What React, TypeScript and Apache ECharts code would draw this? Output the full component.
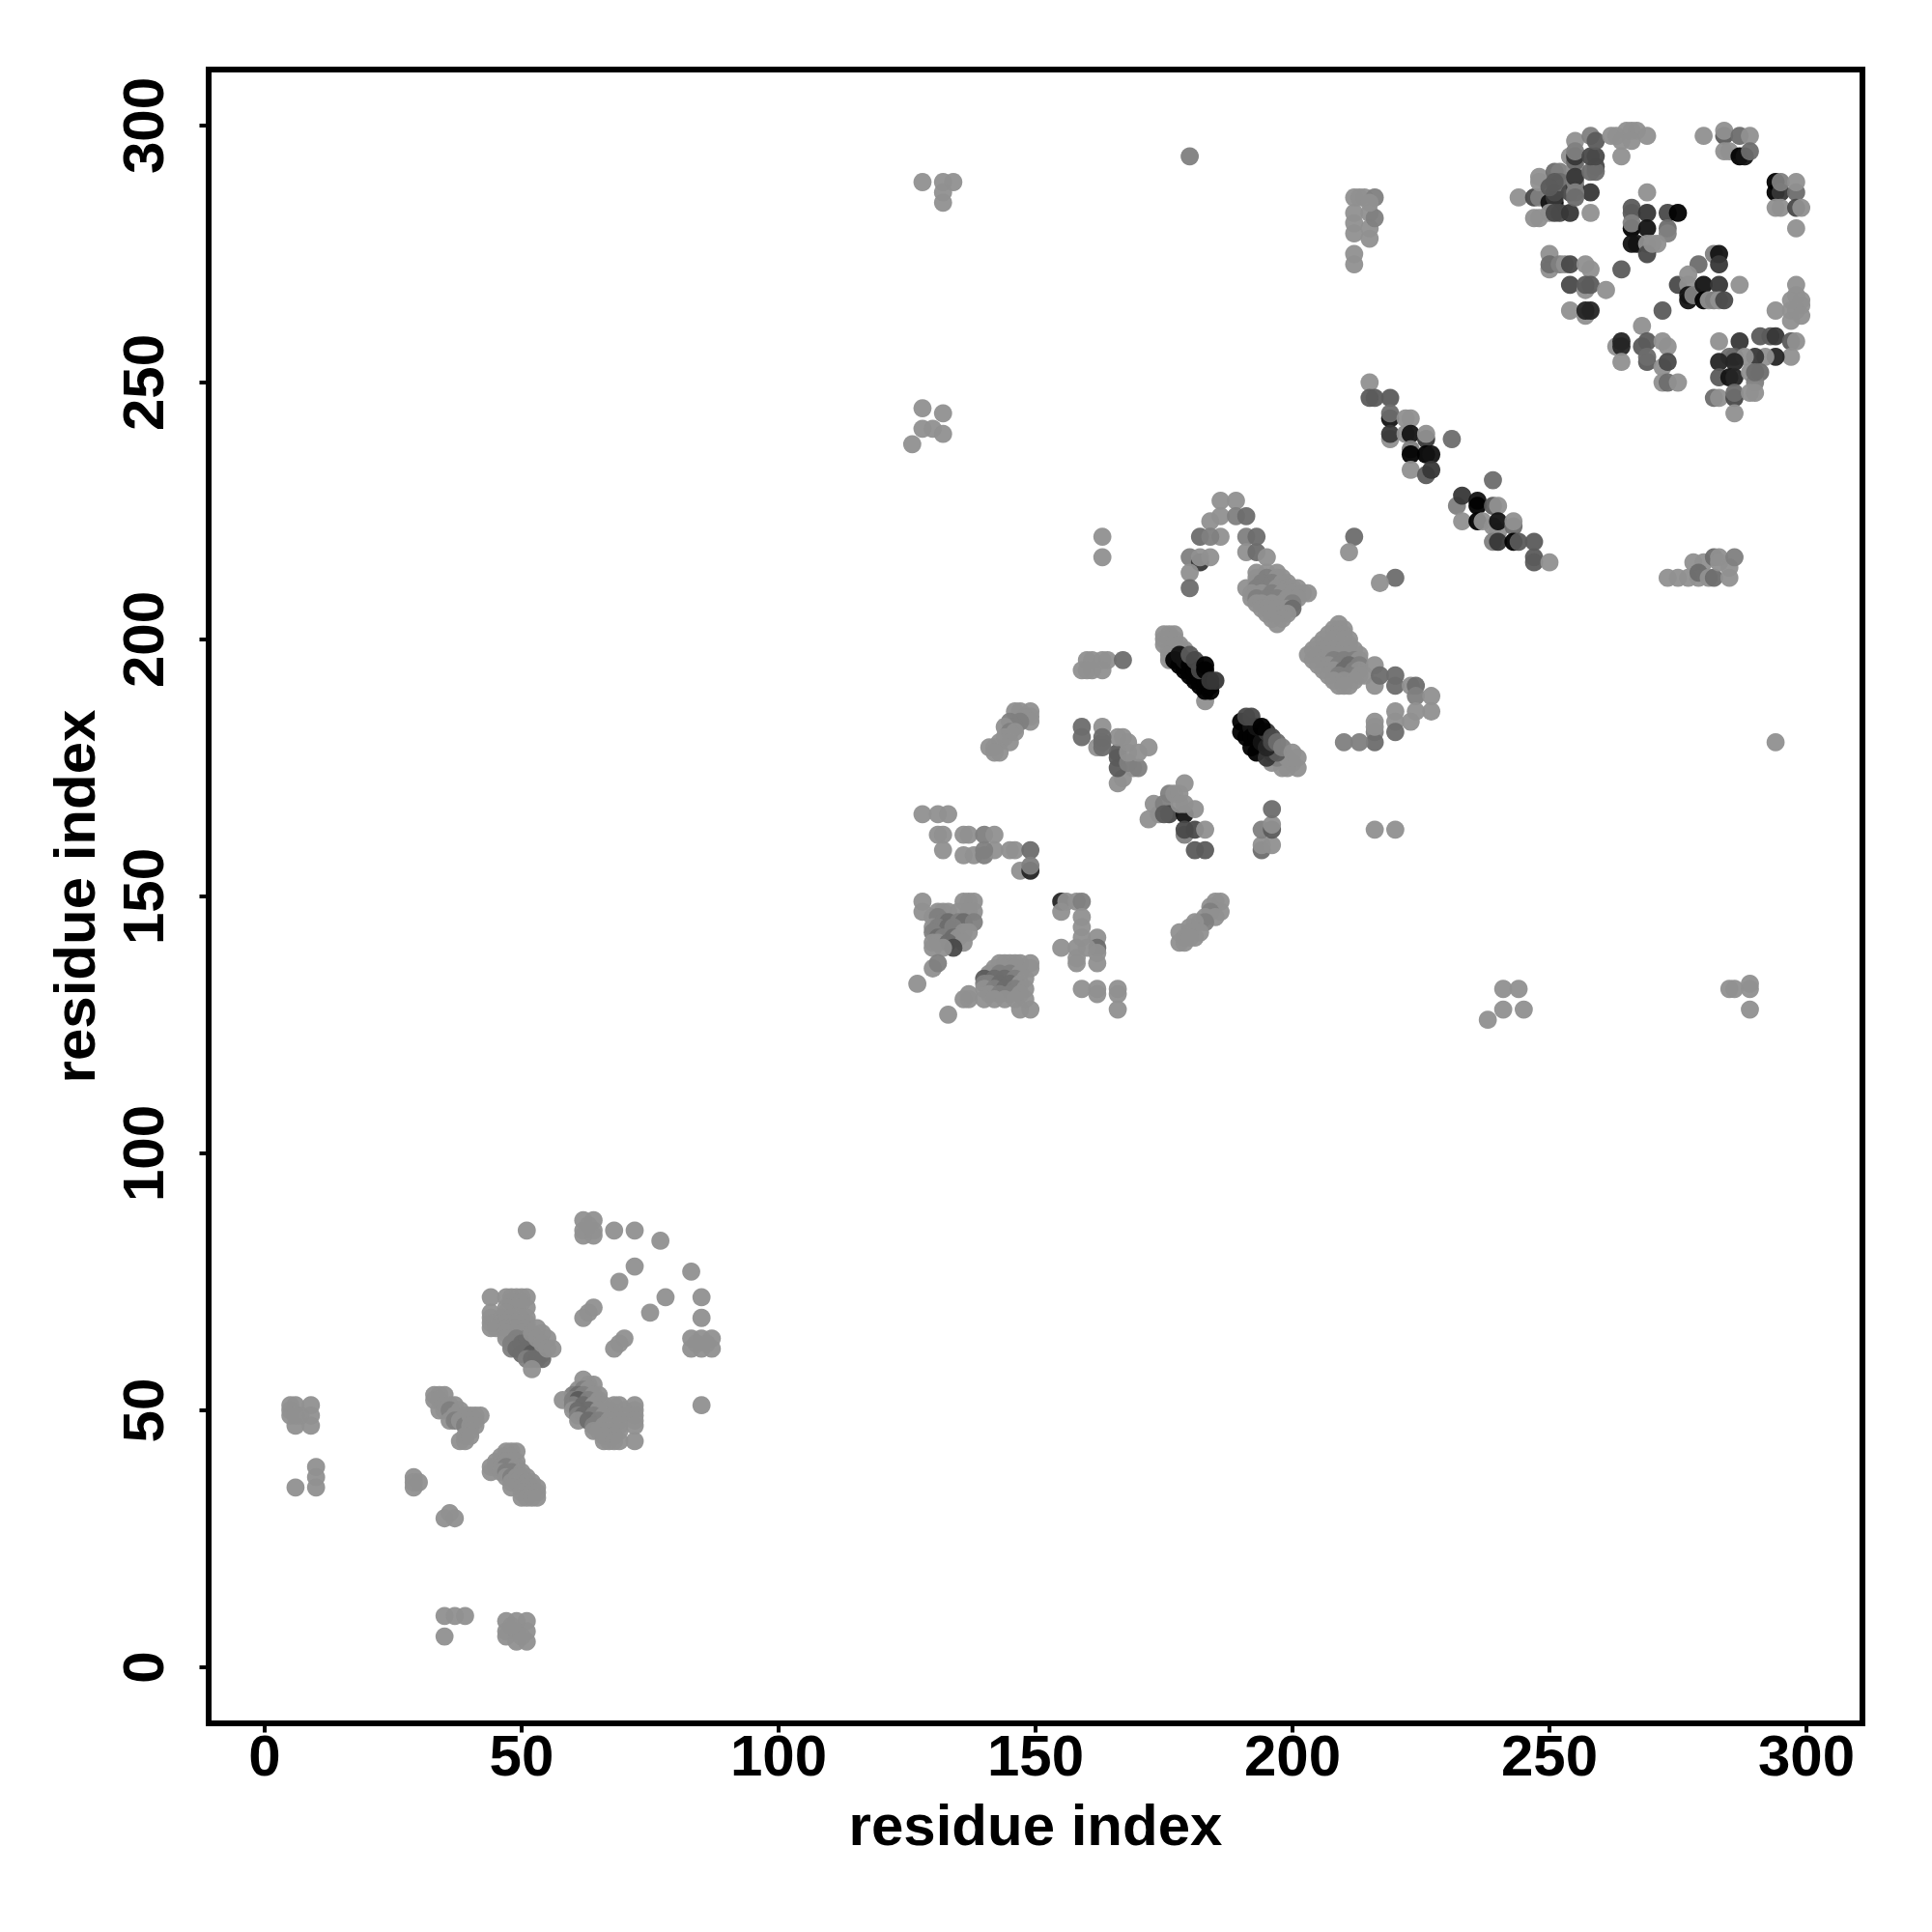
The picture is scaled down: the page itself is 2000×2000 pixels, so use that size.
import React, { useEffect, useRef } from "react";
import * as echarts from "echarts";

type C = number[];

const tickValues = [0, 50, 100, 150, 200, 250, 300];

// [residue x, residue y, shade level 0 (light) .. 8 (near black)]
const domainA: C[] = [
  [5,51],[6,51],[9,51],[5,49],[5,50],[7,49],[9,49],[6,47],[9,47],[6,49],
  [10,39],[10,37],[10,35],[6,35],[29,37],[29,35],[30,36],[29,36],
  [36,30],[35,29],[37,29],[35,10],[37,10],[39,10],[35,6],
  [47,9],[49,9],[51,9],[47,7],[47,6],[49,7],[49,5],[51,7],[51,5],[50,6],[48,8],
];
const domainABandLeft: C[] = [
  [33,53],[34,53],[35,53],[33,52],[34,52],[35,51],[36,51],[37,51],[34,50],[35,50],[36,50,1],[37,49],[38,50],[39,49],
  [36,48],[37,48,1],[38,48],[39,47,1],[40,49],[41,49],[42,49],[41,48],[40,47],[41,47],[40,46],[39,45],[38,44],[39,44],[40,45],
  [47,42],[48,42],[49,42],[46,41],[47,41],[48,41],[45,40],[46,40],[47,40],[48,40],[49,40],[44,39],[45,39],[46,39],[47,39,1],[49,39],
  [44,38],[46,38],[47,38,1],[48,38,1],[50,38],[47,37],[48,37,1],[49,37],[50,37],[51,37],[48,36],[49,36],[50,36],[51,36],[52,36],
  [48,35],[50,35],[51,35],[52,35],[53,35],[50,34],[51,34],[52,34],[53,34],[50,33],[51,33],[52,33],[53,33],
];
const domainABlobUpper: C[] = [
  [44,72],[47,72],[48,72],[49,72],[50,72],[51,72],[48,71],[50,71],[47,70],[49,70],[51,70],
  [44,69],[47,69],[44,68],[46,68],[48,68],[50,68],[51,68],[44,67],[45,67],[46,67],[47,67],[49,67],[51,67],
  [44,66],[45,66],[47,66],[48,66],[49,66],[51,66],[47,65],[50,65],[47,64],[49,64,1],[51,64,1],
  [48,63,1],[50,63,2],[52,63,2],[48,62,1],[49,62,2],[51,62,2],[53,62,2],[50,61,2],[52,61,3],[54,61,2],
  [51,60,1],[52,60,2],[53,60,2],[54,60,2],[52,58],
  [52,65],[53,66],[53,64],[55,64],[54,65],[54,63],[55,62],[56,62],
];
const domainABlobLower: C[] = [
  [62,56],[63,55],[64,55],[61,54],[62,54,1],[63,54],[60,53,1],[61,53,2],[62,53,1],[64,53],[65,53],
  [58,52],[60,52,1],[61,52,3],[63,52,1],[65,52],[60,51,1],[62,51,2],[64,51],[66,51],[68,51],[69,51],[72,51],
  [60,50],[61,50,2],[63,50,2],[65,50],[67,50],[70,50],[72,50],[61,49,1],[62,49,2],[64,49,1],[66,49],[68,49],[69,49],[72,49],
  [61,48],[63,48,2],[65,48,1],[67,48],[69,48],[72,48],[64,47,1],[66,47],[69,47],[72,47],[64,46],[65,46],[67,46],[69,46],
  [66,45],[68,45],[66,44],[67,44],[68,44],[69,44],[72,44],
];
const domainAOuter: C[] = [
  [51,85],[62,87],[64,87],[62,85],[64,85],[62,84],[64,84],[63,86],[68,85],[72,85],[77,83],[72,78],[69,75],[83,77],
  [85,72],[85,68],[78,72],[75,69],[62,68],[64,70],[63,69],[70,64],[68,62],[69,63],
  [83,64],[85,64],[87,64],[83,62],[85,62],[87,62],[84,63],[86,63],[85,51],
];

const domainBLow: C[] = [
  [128,166],[131,166],[133,166],[131,162],[132,162],[132,159],[136,162],[137,162],[140,162,1],[142,162],
  [136,158],[138,158],[140,158,1],[142,159],[140,159,1],[145,159],[146,159],[149,159,2],[147,155],[149,155,6],[149,156,1],
  [128,149],[128,147],[136,149],[137,149],[138,149],[137,147],[138,147],[131,147],[132,147],[133,147],[135,147],
  [130,146],[131,146,1],[132,145,1],[133,145,2],[135,145,1],[136,145,2],[138,145,1],[130,144],[131,144,1],[133,144,2],[134,144,1],
  [136,143],[137,143],[130,143,1],[131,142,2],[132,142,1],[134,142,2],[135,142],[130,141],[131,141],[133,141,2],[136,141],
  [134,140,4],[132,140],[130,140],[130,136],[131,137,1],[127,133],
];
const domainBLow2: C[] = [
  [133,127],[137,130],[136,130],[137,131],
  [143,137],[144,137],[145,137],[146,137],[147,137],[149,137],[142,136],[144,136],[146,136],[149,136],
  [141,135],[143,135,1],[145,135,1],[147,135],[140,134,3],[142,134,2],[144,134,2],[146,134,1],[148,134],
  [140,133,1],[141,133,1],[143,133,2],[145,133,2],[147,133],[140,132],[142,132,1],[144,132,2],[146,132,1],[148,132],
  [141,131],[143,131,1],[145,131,1],[147,131],[140,130],[142,130],[144,130],[146,130],[148,130],[147,128],[149,128],
];
const domainBMid: C[] = [
  [155,149,6],[156,149],[158,149],[159,149,1],[155,147],[159,146],[159,144],[159,142],[162,142],[162,140,2],[155,140],[158,140],[160,140],
  [158,137],[158,138],[162,137],[162,139],[159,132],[162,132],[162,131],[166,132],[166,131],[166,128],
  [185,149],[186,149],[184,148],[186,147],[184,147,1],[183,146],[185,146],[182,145],[183,145,1],[181,145],[180,144],[182,143],[180,143],[178,143],[179,142],[181,142],[178,141],[179,141],[180,142],
  [172,165],[174,166],[173,168],[176,170,1],[175,168,1],[177,170],[178,170],[176,166,4],[175,166,3],[179,166,7],[179,172],[178,168],[179,168],[181,167],
  [179,162,1],[179,163,4],[181,163,4],[183,163],[181,159,3],[183,159,3],
  [194,159,2],[194,160],[196,160],[194,163,1],[196,163,3],[196,164],[196,167,2],
  [166,172],[167,173],[169,175],[170,175,1],[166,175,3],[166,177,3],[166,178,3],[168,176,1],[168,178],[170,178],[172,179],[166,181],[167,181],[168,180],
  [162,179],[163,179,2],[163,180,2],[159,183,2],[159,181,2],[163,183],[163,181,2],
  [146,186],[147,186],[148,185],[149,186],[149,185],[149,184],[147,184,1],[145,184,1],[146,183,1],[144,183],[145,182,1],[146,182],[144,181],[145,180],[143,180],[141,179],[142,179],[143,178],[142,178],
  [160,196],[161,196],[163,196],[164,196],[167,196,2],[159,194],[160,194],[161,194],[163,194],
];
const domainBDarkBands: C[] = [
  [175,201],[176,201],[177,201],[175,200],[177,200],[175,199],[178,199],[176,198],[178,198],[179,198],[176,197],[177,197],[176,196],[183,188],
  [177,196,8],[178,195,8],[179,194,8],[180,193,8],[181,192,8],[182,191,8],[183,190,8],[184,190,8],[184,191,8],
  [178,197,7],[179,196,7],[180,195,8],[181,194,8],[182,193,8],[183,192,8],
  [180,197,3],[181,196,4],[182,194,4],[183,195,8],[183,194,8],[184,192,5],[185,192,5],
  [196,176],[198,175],[199,175],[201,175],[200,176],[197,177,1],[199,177],
  [190,184,8],[190,182,8],[191,181,8],[192,179,8],[193,178,8],[195,177,5],[196,178,5],[197,178,3],
  [192,183,7],[192,181,8],[193,181,8],[194,180,7],[195,179,6],[193,183,7],[195,182,5],[196,180,4],
  [191,185,4],[192,185,4],[194,183,8],[196,181,4],[197,180,2],[198,179,1],[200,178],[201,177],
];
const domainBBlobs: C[] = [
  [186,227],[189,227],[186,224],[184,223],[189,224,1],[191,224,2],[186,220],[182,220,2],[184,220,1],[191,220,1],[193,220,2],
  [180,216,1],[182,215,5],[182,216],[184,216],[180,213],[180,210,2],[191,217],[193,217,2],[195,216],
  [193,213],[195,213],[197,213],[193,212],[195,212,1],[197,212],[198,212],[193,211],[194,211,1],[196,211,1],[198,211],[199,211],
  [191,210],[193,210,1],[195,210,1],[197,210],[199,210],[200,210],[201,210],[192,209],[194,209],[196,209,1],[198,209],[200,209],[202,209],[203,209],
  [192,208],[193,208,1],[195,208,1],[197,208,1],[199,208],[201,208],[193,207],[194,207],[196,207],[198,207],[200,207,1],
  [194,206],[195,206],[197,206],[199,206],[200,206,2],[195,205],[196,205],[198,205],[199,205],[196,204],[198,204],[197,203],
  [209,203],[208,202],[209,202],[210,202],[207,201],[209,201],[210,201],[206,200],[208,200],[210,200],[211,200],
  [205,199],[207,199],[209,199],[211,199],[204,198],[206,198],[208,198],[210,198],[212,198],[203,197],[205,197],[207,197],[209,197],[211,197],[213,197],
  [204,196],[206,196],[208,196,1],[210,196,1],[212,196,1],[213,196],[205,195],[207,195],[209,195,1],[211,195,2],[213,195,1],
  [206,194],[208,194],[210,194,2],[212,194,1],[213,194],[207,193],[209,193,1],[211,193,1],[213,193],[214,193],[208,192],[210,192],[212,192],[209,191],[210,191],[211,191],
  [216,195],[216,191],[217,193,2],[220,191,2],[220,193,2],[223,191],[224,191,2],[224,189,1],[227,189],[227,186],[224,186],[223,184],[220,186],[220,184],[220,182,2],
  [216,184],[216,182,1],[216,180,2],[213,180,1],[210,180,1],[216,183],
  [163,220],[163,216],[212,220,2],[211,217],[220,212,2],[217,211],[216,163],[220,163],
];

const domainCDiagonal: C[] = [
  [215,250],[215,247,3],[216,247,3],[219,247,3],[219,243,7],[219,244,2],[222,243],[223,243],
  [219,239],[219,240,5],[222,240],[223,240,7],[226,239,5],[226,240],[231,239,2],[223,237,1],[223,236,8],[226,236,8],[227,236,7],
  [223,233],[226,232,3],[227,233,5],[239,231,2],[232,226,1],[233,228,5],[236,227,7],[236,226,8],[239,226,3],[240,226],
  [233,223],[236,223,8],[237,223],[239,222],[240,221],[240,223,7],[243,222,2],[243,223],
  [239,219,1],[240,219,5],[243,219,8],[244,219,3],[247,219,3],[247,216,3],[247,215,3],[250,215],
];
const domainCTop: C[] = [
  [212,273],[212,275],[212,279],[212,281],[212,283],[212,286],[213,286],[214,286],[215,278],[215,280],[215,283],[216,282,1],[216,286,1],[215,285],
  [244,286],[247,286,4],[248,286,1],[251,285,8],[250,285,7],[251,286,5],[251,287,4],[247,282],[248,282],[250,283],[251,283,4],[252,283,4],[254,283,5],[258,283],[258,287,5],[248,290],[248,289],[251,291,2],[252,291,1],[252,289,2],[251,289,3],[250,288,3],
  [254,294],[255,297],[254,287,4],[255,288,5],[255,289,1],[255,291],[255,292],[255,293,2],[255,290,5],[255,294,5],[255,295,1],[255,287,1],[255,286,2],[258,298,1],[259,292,4],[258,291,2],[259,291,2],[258,294,4],[259,294,4],[259,297,3],
  [262,298],[263,298],[264,297],[265,299],[266,299],[267,299],[266,297],[269,298],[264,294],
  [280,298],[284,298,3],[284,299],[287,298,2],[289,298],[284,295],[285,295],[287,294,8],[288,294,7],[289,295,2],
  [294,289,8],[294,287,8],[295,287,5],[295,289,1],[298,287,2],[298,289],[294,284],[295,284],[298,284,4],[299,284],[298,280],
  [269,287],[266,283,3],[266,284,3],[269,283,5],[273,283,4],[275,283,8],[266,280,8],[266,281,1],[269,280,7],[273,280,2],[273,279,1],[266,277,7],[267,277,7],[269,277],[271,277],[269,275,4],[270,277],
];
const domainCLower: C[] = [
  [250,275],[250,272],[250,273,2],[252,273,1],[253,273],[254,273,4],[257,273],[258,272],[254,269,4],[257,268],[257,269,3],[258,269,3],[261,268],
  [254,264],[257,263],[257,264,6],[258,264,6],[264,272,3],[272,264,3],
  [268,261],[263,257],[264,258,6],[264,257,6],[264,254],[269,258,3],[268,257,3],[272,258],[273,257],[269,254,3],[269,255,2],[272,253],[273,254,4],[272,250],[273,250,2],[275,250],
  [282,275,1],[283,275,7],[283,273,5],[279,273,2],[275,269,4],[277,271],[277,269],[277,266,7],[277,267,7],[278,267,1],[280,269,7],[283,269,5],[287,269],[280,266,8],[281,266],[282,266,1],[283,266],[284,266,4],
  [298,269],[294,264],[297,266],[299,266],[297,264],[299,265],[297,262],[298,264],[298,267],[299,263],
  [283,258],[287,258,5],[291,259,3],[293,259,3],[294,259,5],[297,258,3],[298,258],[297,255],[294,255,6],[292,255],[290,255,5],[286,255,3],[285,255,2],[288,255],
  [283,254,6],[286,254,6],[283,251,3],[285,251,7],[286,251,6],[289,252],[291,252,2],[290,250,1],[290,252,2],
  [282,247,2],[283,247],[286,247,4],[286,248,2],[289,248],[290,248],[286,244],
];
const isolatedContacts: C[] = [
  [180,294,1],[128,289],[132,289],[134,289],[132,287],[132,285],[126,238],[128,245],[132,244],[128,241],[130,241],[132,240],
  [294,180],[238,126],[241,132],[244,132],[241,128],[245,128],[285,132],[286,132],[289,132],[289,133],[289,128],
  [273,212],[275,212],[278,215],[277,212],[279,212],[280,215],[279,213,2],[281,212],[282,212,2],[282,216,2],[283,216],[283,215],[285,212],[285,214],[286,216,1],
];

const allContacts: C[] = [
  ...domainA, ...domainABandLeft, ...domainABlobUpper, ...domainABlobLower, ...domainAOuter,
  ...domainBLow, ...domainBLow2, ...domainBMid, ...domainBDarkBands, ...domainBBlobs,
  ...domainCDiagonal, ...domainCTop, ...domainCLower, ...isolatedContacts,
];

const ALPHA = 0.95;
function shadeColor(level: number): string {
  const grey = 150 - level * 17; // grey seen on white
  const c = Math.max(0, Math.round((grey - 255 * (1 - ALPHA)) / ALPHA));
  return `rgba(${c},${c},${c},${ALPHA})`;
}

const font = { fontFamily: "Liberation Sans", fontWeight: "bold" as const, fontSize: 60, color: "#000" };

export default function App() {
  const ref = useRef<HTMLDivElement>(null);
  useEffect(() => {
    const chart = echarts.init(ref.current!, undefined, { renderer: "svg" });
    const axisCommon = {
      type: "value" as const,
      name: "residue index",
      nameLocation: "middle" as const,
      nameTextStyle: font,
      min: -10.9,
      max: 310.9,
      splitLine: { show: false },
      axisLine: { show: false, onZero: false },
      axisTick: { show: true, length: 9.5, customValues: tickValues, lineStyle: { color: "#000", width: 4 } },
    };
    chart.setOption({
      animation: false,
      backgroundColor: "#fff",
      grid: { left: 216, top: 72, width: 1712, height: 1712, show: true, borderColor: "#000", borderWidth: 6, backgroundColor: "#fff" },
      xAxis: { ...axisCommon, nameGap: 75, axisLabel: { ...font, margin: 3, customValues: tickValues, formatter: "{value}" } },
      yAxis: {
        ...axisCommon,
        nameGap: 109,
        axisLabel: { ...font, margin: 38, rotate: 90, customValues: tickValues, formatter: "{value}" },
      },
      series: [{
        type: "scatter",
        symbol: "circle",
        symbolSize: 18.8,
        itemStyle: { opacity: 1 },
        data: allContacts.map((c) => ({ value: [c[0], c[1]], itemStyle: { color: shadeColor(c[2] ?? 0), opacity: 1 } })),
        silent: true,
        clip: true,
      }],
    });
    return () => chart.dispose();
  }, []);
  return <div ref={ref} style={{ position: "absolute", left: 0, top: 0, width: 2000, height: 2000 }} />;
}
